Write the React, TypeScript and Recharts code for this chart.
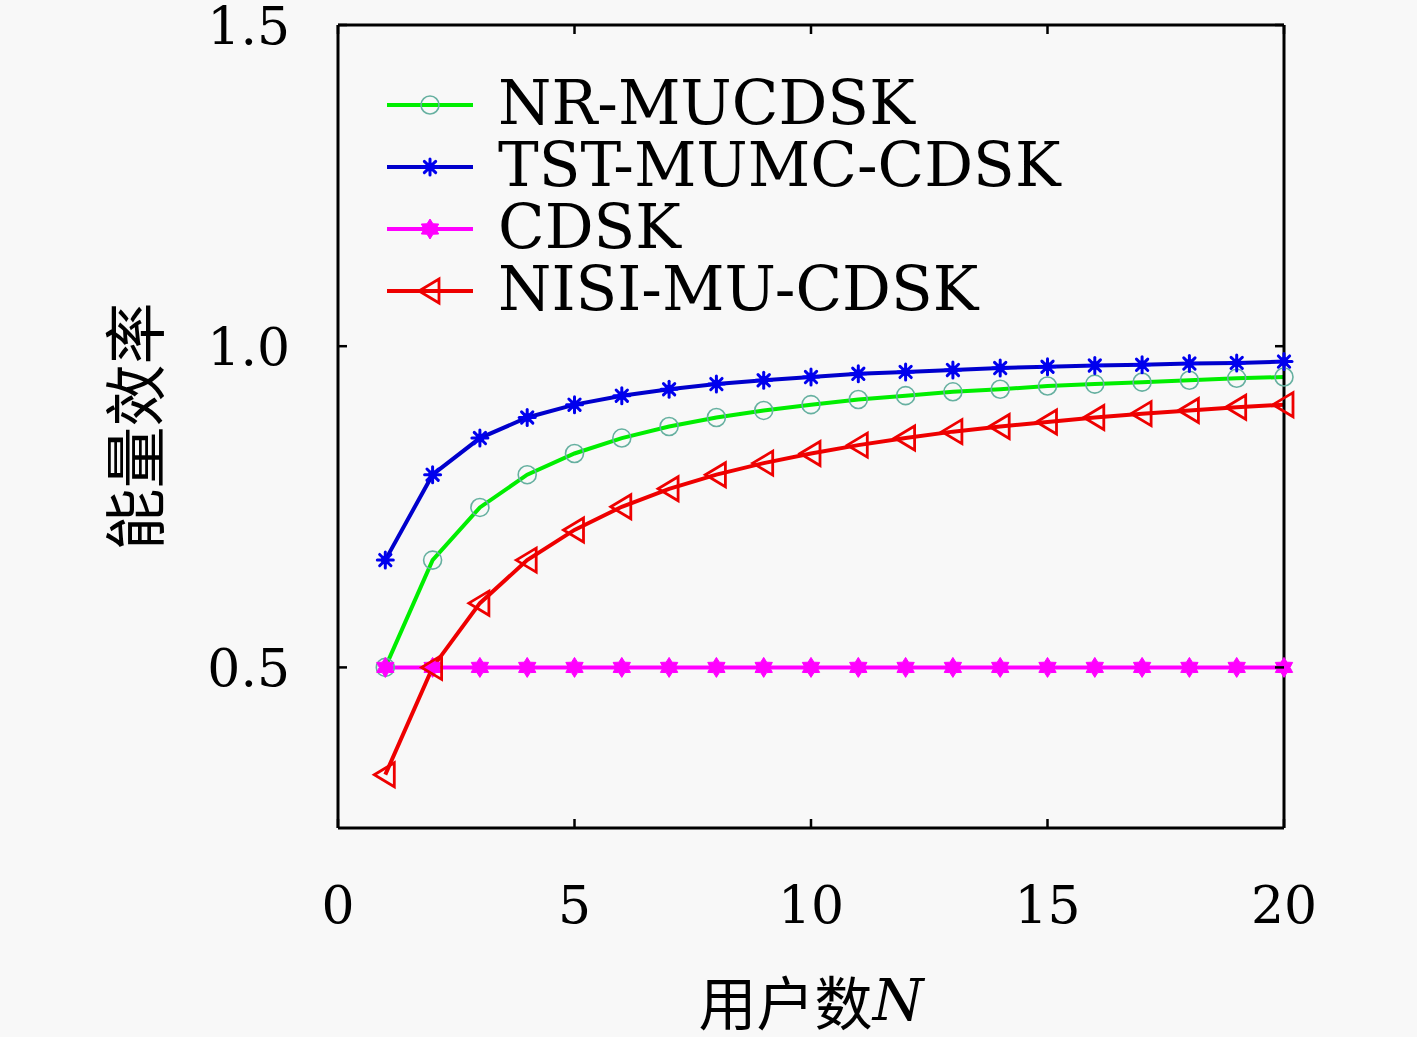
import React from 'react';
import { LineChart, Line, XAxis, YAxis, Legend } from 'recharts';

// ---- data ----
const nUsers = [1, 2, 3, 4, 5, 6, 7, 8, 9, 10, 11, 12, 13, 14, 15, 16, 17, 18, 19, 20];
const nrMucdsk = [0.5, 0.667, 0.749, 0.8, 0.833, 0.857, 0.875, 0.889, 0.9, 0.909, 0.917, 0.923, 0.929, 0.933, 0.938, 0.941, 0.944, 0.947, 0.95, 0.952];
const tstMumcCdsk = [0.667, 0.8, 0.857, 0.889, 0.909, 0.923, 0.933, 0.941, 0.947, 0.952, 0.957, 0.96, 0.963, 0.966, 0.968, 0.97, 0.971, 0.973, 0.974, 0.976];
const cdsk = [0.5, 0.5, 0.5, 0.5, 0.5, 0.5, 0.5, 0.5, 0.5, 0.5, 0.5, 0.5, 0.5, 0.5, 0.5, 0.5, 0.5, 0.5, 0.5, 0.5];
const nisiMuCdsk = [0.333, 0.5, 0.6, 0.667, 0.714, 0.75, 0.778, 0.8, 0.818, 0.833, 0.846, 0.857, 0.867, 0.875, 0.882, 0.889, 0.895, 0.9, 0.905, 0.909];

const seriesKeys = ['nr', 'tst', 'cdsk', 'nisi'];
const seriesNames = ['NR-MUCDSK', 'TST-MUMC-CDSK', 'CDSK', 'NISI-MU-CDSK'];
const xTicks = [0, 5, 10, 15, 20];
const yTicks = [0.5, 1.0, 1.5];
const xLabel = '用户数';
const xLabelVar = 'N';
const yLabel = '能量效率';

const data = nUsers.map((n, i) => ({
  n,
  nr: nrMucdsk[i],
  tst: tstMumcCdsk[i],
  cdsk: cdsk[i],
  nisi: nisiMuCdsk[i],
}));

// ---- styles ----
const SERIF = '"DejaVu Serif", "Liberation Serif", serif';
const CJK = '"Noto Sans CJK SC", sans-serif';
const lineColors: Record<string, string> = { nr: '#00ee00', tst: '#0000cc', cdsk: '#ff00ff', nisi: '#ee0000' };
const markerColors: Record<string, string> = { nr: '#66b0a0', tst: '#0000ee', cdsk: '#ff00ff', nisi: '#ee0000' };
// the last series is bound to the mirrored (top/right) axes so that the frame is drawn
const axisBinding: Record<string, { x: string | number; y: string | number }> = {
  nr: { x: 0, y: 0 },
  tst: { x: 0, y: 0 },
  cdsk: { x: 0, y: 0 },
  nisi: { x: 'top', y: 'r' },
};

function Marker({ kind, cx, cy }: { kind: string; cx: number; cy: number }) {
  const c = markerColors[kind];
  if (kind === 'nr') {
    return <circle cx={cx} cy={cy} r={9} fill="none" stroke={c} strokeWidth={1.6} />;
  }
  if (kind === 'tst') {
    const r = 8;
    const d = r * 0.707;
    return (
      <g stroke={c} strokeWidth={3} strokeLinecap="round">
        <line x1={cx - r} y1={cy} x2={cx + r} y2={cy} />
        <line x1={cx} y1={cy - r} x2={cx} y2={cy + r} />
        <line x1={cx - d} y1={cy - d} x2={cx + d} y2={cy + d} />
        <line x1={cx - d} y1={cy + d} x2={cx + d} y2={cy - d} />
        <circle cx={cx} cy={cy} r={4.5} fill={c} stroke="none" />
      </g>
    );
  }
  if (kind === 'cdsk') {
    const R = 10;
    const r = 6;
    const pts: string[] = [];
    for (let i = 0; i < 12; i++) {
      const a = (Math.PI / 6) * i - Math.PI / 2;
      const rad = i % 2 === 0 ? R : r;
      pts.push(`${cx + rad * Math.cos(a)},${cy + rad * Math.sin(a)}`);
    }
    return <polygon points={pts.join(' ')} fill={c} stroke={c} strokeWidth={1} />;
  }
  const pts = `${cx - 11},${cy} ${cx + 9},${cy - 12} ${cx + 9},${cy + 12}`;
  return <polygon points={pts} fill="none" stroke={c} strokeWidth={2.8} strokeLinejoin="miter" />;
}

const makeDot = (kind: string) => (props: any) => {
  const { cx, cy, index } = props;
  return <Marker key={`${kind}-${index}`} kind={kind} cx={cx} cy={cy} />;
};

const BottomTick = (props: any) => {
  const { x, y, payload } = props;
  return (
    <g>
      <line x1={x} y1={y} x2={x} y2={y - 9} stroke="#000" strokeWidth={2.5} />
      <text x={x} y={y + 77} textAnchor="middle" dominantBaseline="central" fontFamily={SERIF} fontSize={52} fill="#000">
        {payload.value}
      </text>
    </g>
  );
};

const TopTick = (props: any) => {
  const { x, y } = props;
  return <line x1={x} y1={y} x2={x} y2={y + 9} stroke="#000" strokeWidth={2.5} />;
};

const LeftTick = (props: any) => {
  const { x, y, payload } = props;
  return (
    <g>
      <line x1={x} y1={y} x2={x + 9} y2={y} stroke="#000" strokeWidth={2.5} />
      <text x={x - 48} y={y + 1} textAnchor="end" dominantBaseline="central" fontFamily={SERIF} fontSize={52} fill="#000">
        {Number(payload.value).toFixed(1)}
      </text>
    </g>
  );
};

const RightTick = (props: any) => {
  const { x, y } = props;
  return <line x1={x} y1={y} x2={x - 9} y2={y} stroke="#000" strokeWidth={2.5} />;
};

const XLabel = (props: any) => {
  const vb = props.viewBox || {};
  const cx = vb.x + vb.width / 2;
  return (
    <text x={cx} y={vb.y + 172} textAnchor="middle" dominantBaseline="central" fill="#000">
      <tspan fontFamily={CJK} fontSize={58}>{xLabel}</tspan>
      <tspan fontFamily={SERIF} fontStyle="italic" fontSize={58}>{xLabelVar}</tspan>
    </text>
  );
};

const YLabel = (props: any) => {
  const vb = props.viewBox || {};
  const cx = vb.x + 132;
  const cy = vb.y + vb.height / 2;
  return (
    <text x={cx} y={cy} transform={`rotate(-90 ${cx} ${cy})`} textAnchor="middle" dominantBaseline="central" fontFamily={CJK} fontSize={62} fill="#000">
      {yLabel}
    </text>
  );
};

const renderLegend = () => (
  <div>
    {seriesKeys.map((k, i) => (
      <div key={k} style={{ display: 'flex', alignItems: 'center', height: 62 }}>
        <svg width={90} height={40} style={{ overflow: 'visible' }}>
          <line x1={2} y1={22} x2={88} y2={22} stroke={lineColors[k]} strokeWidth={4} />
          <Marker kind={k} cx={45} cy={22} />
        </svg>
        <span style={{ marginLeft: 23, fontFamily: SERIF, fontSize: 61, lineHeight: '62px', color: '#000', whiteSpace: 'nowrap' }}>
          {seriesNames[i]}
        </span>
      </div>
    ))}
  </div>
);

export default function App() {
  return (
    <div style={{ position: 'absolute', left: 0, top: 0, width: 1417, height: 1037, background: '#f8f8f8' }}>
      <LineChart width={1417} height={1037} data={data} margin={{ top: 24, right: 132, bottom: 0, left: 0 }}>
        <XAxis
          dataKey="n"
          type="number"
          domain={[0, 20]}
          ticks={xTicks}
          height={209}
          tickSize={0}
          tickMargin={0}
          tick={BottomTick}
          axisLine={{ stroke: '#000', strokeWidth: 3 }}
          label={{ content: XLabel }}
        />
        <XAxis
          xAxisId="top"
          orientation="top"
          dataKey="n"
          type="number"
          domain={[0, 20]}
          ticks={xTicks}
          height={1}
          tickSize={0}
          tickMargin={0}
          tick={TopTick}
          axisLine={{ stroke: '#000', strokeWidth: 3 }}
        />
        <YAxis
          type="number"
          domain={[0.25, 1.5]}
          ticks={yTicks}
          width={338}
          tickSize={0}
          tickMargin={0}
          tick={LeftTick}
          axisLine={{ stroke: '#000', strokeWidth: 3 }}
          label={{ content: YLabel }}
        />
        <YAxis
          yAxisId="r"
          orientation="right"
          type="number"
          domain={[0.25, 1.5]}
          ticks={yTicks}
          width={1}
          tickSize={0}
          tickMargin={0}
          tick={RightTick}
          axisLine={{ stroke: '#000', strokeWidth: 3 }}
        />
        <Legend
          verticalAlign="middle"
          align="center"
          layout="horizontal"
          wrapperStyle={{ top: 72, left: 385, width: 'auto' }}
          content={renderLegend}
        />
        {seriesKeys.map((k, i) => (
          <Line
            key={k}
            dataKey={k}
            name={seriesNames[i]}
            xAxisId={axisBinding[k].x}
            yAxisId={axisBinding[k].y}
            type="linear"
            stroke={lineColors[k]}
            strokeWidth={4}
            dot={makeDot(k)}
            activeDot={false}
            isAnimationActive={false}
          />
        ))}
      </LineChart>
    </div>
  );
}
